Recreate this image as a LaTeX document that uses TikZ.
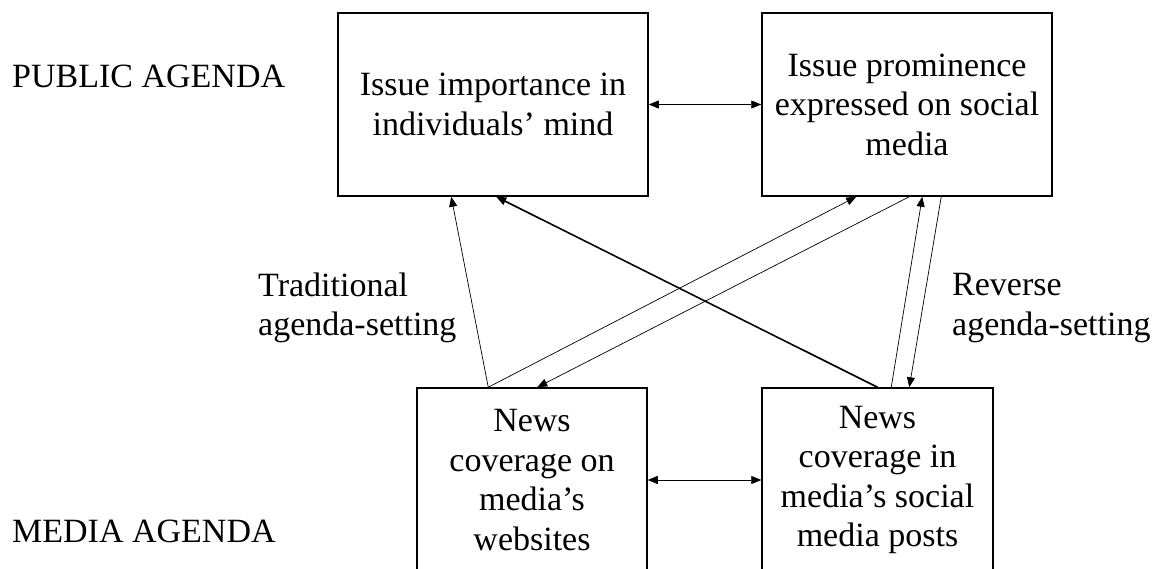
\documentclass[tikz,border=0pt]{standalone}
\usepackage{fontspec}
\setmainfont{Liberation Serif}
\usetikzlibrary{arrows.meta}
\usetikzlibrary{calc}

\tikzset{
  agenda/.style={font=\fontsize{34}{39.5}\selectfont, inner sep=0pt},
  issuebox/.style={agenda, draw, line width=1.5pt, align=center},
  thinlink/.style={-{Triangle[length=10pt,width=8pt]}, line width=0.7pt},
  thicklink/.style={thinlink, line width=1.6pt},
  twolink/.style={{Triangle[length=10pt,width=8pt]}-{Triangle[length=10pt,width=8pt]}, line width=0.7pt},
}

\begin{document}
\begin{tikzpicture}[x=1pt, y=-1pt]
    \useasboundingbox (0,0) rectangle (1161,569);
    \clip (0,0) rectangle (1161,569);

    % Public agenda row
    \node[issuebox, minimum width=310pt, minimum height=183pt] (pubmind) at (493,104.5) {Issue importance in\\individuals' mind};
    \node[issuebox, minimum width=290pt, minimum height=183pt] (pubsocial) at (907,104.5) {Issue prominence\\expressed on social\\media};

    % Media agenda row (boxes run past the lower edge)
    \node[issuebox, minimum width=230pt, minimum height=184pt] (mediaweb) at (532,480) {News\\coverage on\\media's\\websites};
    \node[issuebox, minimum width=231pt, minimum height=184pt] (mediasocial) at (877.5,480) {News\\coverage in\\media's social\\media posts};

    % Row labels
    \node[agenda, anchor=base west] (publab) at (12,88) {PUBLIC AGENDA};
    \node[agenda, anchor=base west] (medialab) at (12,542) {MEDIA AGENDA};
    \node[agenda, anchor=west, align=left] (tradlab) at (258,308) {Traditional\\agenda-setting};
    \node[agenda, anchor=west, align=left] (revlab) at (952,308) {Reverse\\agenda-setting};

    % Within each row
    \draw[twolink] (pubmind.east) -- (pubsocial.west);
    \draw[twolink] (mediaweb.east) -- (mediasocial.west);

    % Traditional agenda-setting
    \draw[thinlink] ([xshift=72pt]mediaweb.north west) -- ([xshift=114pt]pubmind.south west);

    % Cross links
    \draw[thinlink] ([xshift=72pt]mediaweb.north west) -- ([xshift=95pt]pubsocial.south west);
    \draw[thinlink] ([xshift=148pt]pubsocial.south west) -- ([xshift=121pt]mediaweb.north west);
    \draw[thicklink] (mediasocial.north) -- ([xshift=159pt]pubmind.south west);

    % Reverse agenda-setting
    \draw[thinlink] ([xshift=130pt]mediasocial.north west) -- ([xshift=161pt]pubsocial.south west);
    \draw[thinlink] ([xshift=180pt]pubsocial.south west) -- ([xshift=148pt]mediasocial.north west);
\end{tikzpicture}
\end{document}
